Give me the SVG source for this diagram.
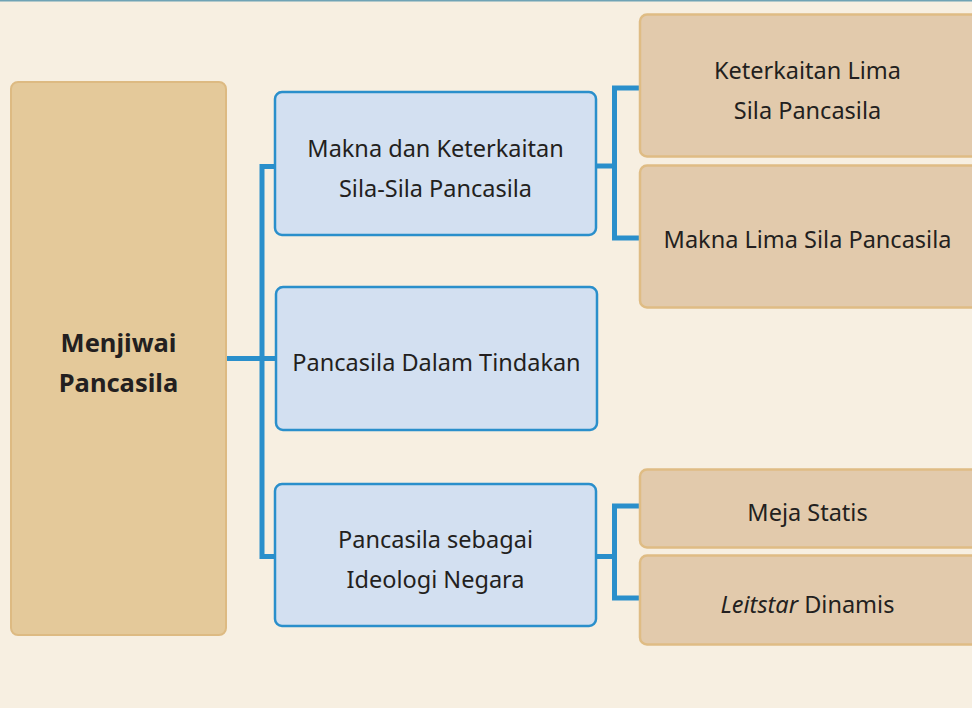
<svg xmlns="http://www.w3.org/2000/svg" width="972" height="708" viewBox="0 0 972 708">
<style>
.bg{fill:#F7EFE1}
.root{fill:#E4C99A;stroke:#DDBA82;stroke-width:2}
.blue{fill:#D3E0F1;stroke:#2A8FCB;stroke-width:2.5}
.tan{fill:#E2CAAC;stroke:#DFBC84;stroke-width:2.5}
text{font-family:"Noto Sans","Open Sans","Liberation Sans",sans-serif;font-size:23.5px;fill:#231F20;text-anchor:middle}
.b{font-weight:bold;font-size:25.5px}
.conn{fill:none;stroke:#2A8FCB;stroke-width:5;stroke-linecap:butt;stroke-linejoin:miter}
</style>
<rect class="bg" x="0" y="0" width="972" height="708"/>
<line x1="0" y1="0.75" x2="972" y2="0.75" stroke="#6FA3B5" stroke-width="1.5"/>
<g id="connectors">
<path class="conn" d="M226 358.5 H276"/>
<path class="conn" d="M276 166.5 H262 V556.5 H276"/>
<path class="conn" d="M596 166 H614.5"/>
<path class="conn" d="M641 88 H614.5 V238 H641"/>
<path class="conn" d="M596 556.5 H614.5"/>
<path class="conn" d="M641 506 H614.5 V598 H641"/>
</g>
<g id="n-menjiwai">
<rect class="root" x="11" y="82" width="215" height="553" rx="7"/>
<text class="b" x="118.5" y="352">Menjiwai</text>
<text class="b" x="118.5" y="392">Pancasila</text>
</g>
<g id="n-makna">
<rect class="blue" x="275" y="92" width="321" height="143" rx="7"/>
<text x="435.5" y="157">Makna dan Keterkaitan</text>
<text x="435.5" y="197">Sila-Sila Pancasila</text>
</g>
<g id="n-tindakan">
<rect class="blue" x="276" y="287" width="321" height="143" rx="7"/>
<text x="436.5" y="371">Pancasila Dalam Tindakan</text>
</g>
<g id="n-ideologi">
<rect class="blue" x="275" y="484" width="321" height="142" rx="7"/>
<text x="435.5" y="548">Pancasila sebagai</text>
<text x="435.5" y="588">Ideologi Negara</text>
</g>
<g id="n-keterkaitan">
<rect class="tan" x="640" y="14.5" width="340" height="142" rx="7"/>
<text x="807.5" y="79">Keterkaitan Lima</text>
<text x="807.5" y="119">Sila Pancasila</text>
</g>
<g id="n-maknalima">
<rect class="tan" x="640" y="165.5" width="340" height="142" rx="7"/>
<text x="807.5" y="248">Makna Lima Sila Pancasila</text>
</g>
<g id="n-meja">
<rect class="tan" x="640" y="469.5" width="340" height="78" rx="7"/>
<text x="807.5" y="521">Meja Statis</text>
</g>
<g id="n-leitstar">
<rect class="tan" x="640" y="555.5" width="340" height="89" rx="7"/>
<text x="807.5" y="613"><tspan font-style="italic">Leitstar</tspan> Dinamis</text>
</g>
</svg>
